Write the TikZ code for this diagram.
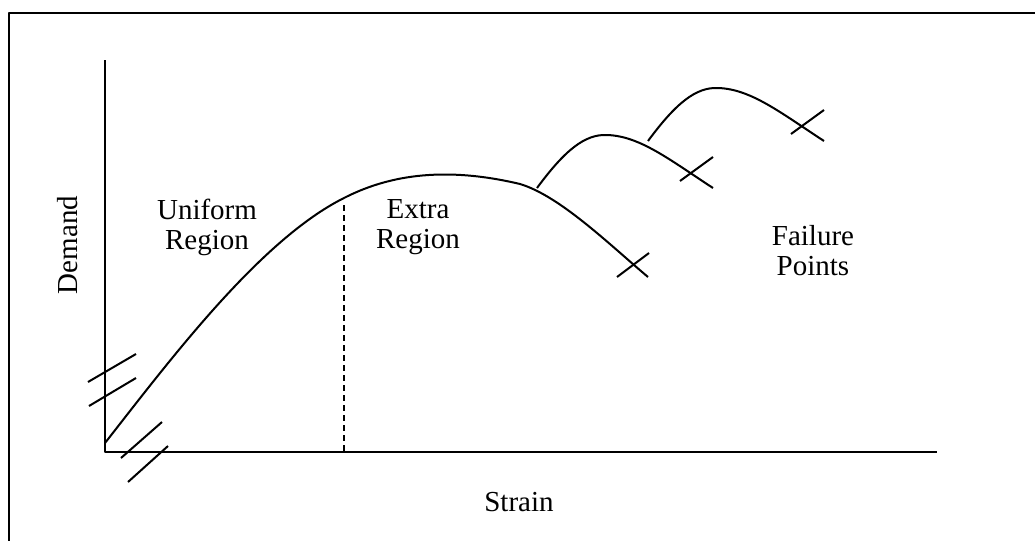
\documentclass[tikz,border=0pt]{standalone}
\usepackage{fontspec}
\setmainfont{Liberation Serif}
\usepackage{tikz}
\usetikzlibrary{
	calc
}
\newcommand{\hump}[2]{%
	\draw[curve]
	(#1,#2)
	.. controls ({#1+28},{#2-38}) and ({#1+48},{#2-54}) ..
	({#1+70},{#2-53})
	.. controls ({#1+103},{#2-52}) and ({#1+133},{#2-28}) ..
	({#1+176},{#2+0});
	\draw[curve] ({#1+143},{#2-7}) -- ({#1+176},{#2-31});
}
\tikzset{
	curve/.style={line width=1pt},
	lbl/.style={align=center, font=\fontsize{14.5}{15}\selectfont}
}

\begin{document}
\begin{tikzpicture}[x=0.5pt, y=-0.5pt, line cap=butt, line join=round]
		
		\useasboundingbox (0,0) rectangle (1035,541);
		
		% -- Frame ---------------------------------------------------
		\draw[line width=1.4pt] (9,541) -- (9,13) -- (1035,13);
		
		% -- Axes ----------------------------------------------------
		\draw[line width=1pt] (105,60) -- (105,452) -- (937,452);
		\node[lbl, rotate=90] (demand) at (68,245) {Demand};
		\node[lbl] (strain) at (519,502) {Strain};
		
		% -- Axis break marks ----------------------------------------
		\draw[curve] (88,382) -- (136,354);
		\draw[curve] (89,406) -- (136,378);
		\draw[curve] (121,458) -- (162,422);
		\draw[curve] (128,482) -- (168,446);
		
		% -- Main demand curve ---------------------------------------
		\draw[curve]
		(105,443) .. controls (170,360) and (260,240) .. (344,198)
		.. controls (385,177) and (440,165) .. (520,184)
		.. controls (560,196) and (610,245) .. (648,277);
		\draw[curve] (617,277) -- (649,253);
		
		% -- Boundary between regions --------------------------------
		\draw[line width=0.8pt, dash pattern=on 3pt off 2pt] (344,205) -- (344,452);
		
		% -- Failure branches ----------------------------------------
		\hump{537}{188}
		\hump{648}{141}
		
		% -- Labels --------------------------------------------------
		\node[lbl] (uniform) at (207,227) {Uniform\\Region};
		\node[lbl] (extra) at (418,227) {Extra\\Region};
		\node[lbl] (failure) at (813,251) {Failure\\Points};
		
	\end{tikzpicture}
\end{document}
